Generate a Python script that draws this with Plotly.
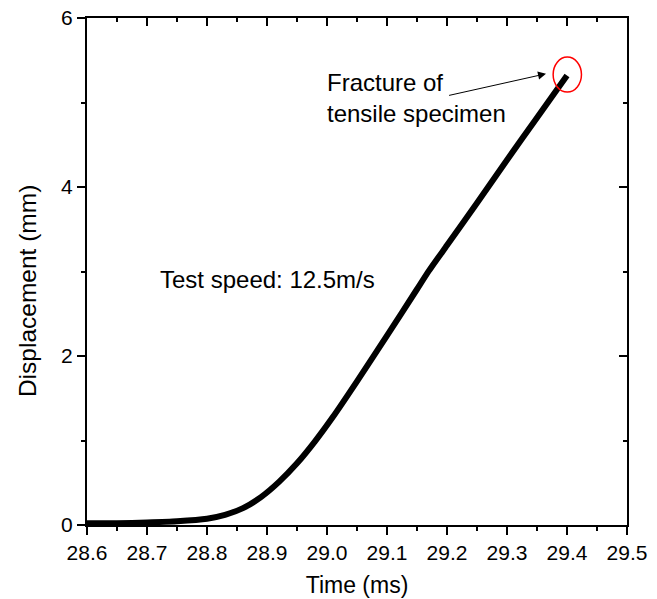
import plotly.graph_objects as go

time_ms = [28.60, 28.65, 28.70, 28.75, 28.80, 28.83, 28.86, 28.89, 28.92, 28.95, 28.98,
           29.01, 29.05, 29.10, 29.15, 29.17, 29.20, 29.25, 29.30, 29.35, 29.40]
disp_mm = [0.02, 0.02, 0.03, 0.045, 0.075, 0.12, 0.20, 0.33, 0.51, 0.73, 0.99,
           1.28, 1.70, 2.24, 2.79, 3.01, 3.31, 3.81, 4.32, 4.82, 5.32]

x_ticks = [28.6, 28.7, 28.8, 28.9, 29.0, 29.1, 29.2, 29.3, 29.4, 29.5]
x_tick_text = ["28.6", "28.7", "28.8", "28.9", "29.0", "29.1", "29.2", "29.3", "29.4", "29.5"]
y_ticks = [0, 2, 4, 6]

FONT = "Liberation Sans, Arial, sans-serif"

fig = go.Figure()
fig.add_trace(go.Scatter(x=time_ms, y=disp_mm, mode="lines",
                         line=dict(color="black", width=6, shape="spline", smoothing=0.5),
                         showlegend=False, hoverinfo="skip"))
# invisible trace to host the mirrored (inward-tick) axes
fig.add_trace(go.Scatter(x=[28.6, 29.5], y=[0, 6], xaxis="x2", yaxis="y2",
                         mode="lines", line=dict(width=0, color="rgba(0,0,0,0)"),
                         showlegend=False, hoverinfo="skip"))

axis_common = dict(showgrid=False, zeroline=False, showline=True, linecolor="black",
                   linewidth=2, tickcolor="black", tickwidth=2, automargin=False)

fig.update_layout(
    width=657, height=599,
    margin=dict(l=87, r=30, t=18, b=74),
    plot_bgcolor="white", paper_bgcolor="white",
    font=dict(family=FONT, size=21, color="black"),
    xaxis=dict(range=[28.6, 29.5], tickvals=x_ticks, ticktext=x_tick_text,
               ticks="outside", ticklen=8,
               minor=dict(dtick=0.05, tick0=28.6, ticks="outside", ticklen=4,
                          tickcolor="black", tickwidth=2),
               title=dict(text="Time (ms)", font=dict(size=23), standoff=14),
               **axis_common),
    yaxis=dict(range=[0, 6], tickvals=y_ticks, ticks="outside", ticklen=8,
               minor=dict(dtick=1, tick0=0, ticks="outside", ticklen=4,
                          tickcolor="black", tickwidth=2),
               **axis_common),
    xaxis2=dict(range=[28.6, 29.5], overlaying="x", side="top", anchor="y",
                tickmode="array", tickvals=x_ticks, ticks="inside", ticklen=8,
                showticklabels=False,
                minor=dict(dtick=0.05, tick0=28.6, ticks="inside", ticklen=4,
                           tickcolor="black", tickwidth=2),
                **axis_common),
    yaxis2=dict(range=[0, 6], overlaying="y", side="right", anchor="x",
                tickmode="array", tickvals=y_ticks, ticks="inside", ticklen=8,
                showticklabels=False,
                minor=dict(dtick=1, tick0=0, ticks="inside", ticklen=4,
                           tickcolor="black", tickwidth=2),
                **axis_common),
)

# y-axis title (placed slightly below the axis centre, as in the original)
fig.add_annotation(x=-0.111, y=0.4615, xref="paper", yref="paper",
                   text="Displacement (mm)", textangle=-90, showarrow=False,
                   xanchor="center", yanchor="middle", font=dict(size=24.5))
fig.add_annotation(x=28.718, y=2.90, xref="x", yref="y", text="Test speed: 12.5m/s",
                   showarrow=False, xanchor="left", yanchor="middle",
                   font=dict(size=24))
fig.add_annotation(x=28.996, y=5.05, xref="x", yref="y",
                   text="Fracture of<br>tensile specimen", align="left",
                   showarrow=False, xanchor="left", yanchor="middle",
                   font=dict(size=24))
fig.add_annotation(x=29.365, y=5.34, ax=29.201, ay=5.08, xref="x", yref="y",
                   axref="x", ayref="y", text="", showarrow=True,
                   arrowhead=2, arrowsize=1.6, arrowwidth=1, arrowcolor="black")
fig.add_shape(type="circle", xref="x", yref="y",
              x0=29.4005 - 0.0236, x1=29.4005 + 0.0236, y0=5.33 - 0.207, y1=5.33 + 0.207,
              line=dict(color="red", width=1.5))

fig.write_html("out.html")
